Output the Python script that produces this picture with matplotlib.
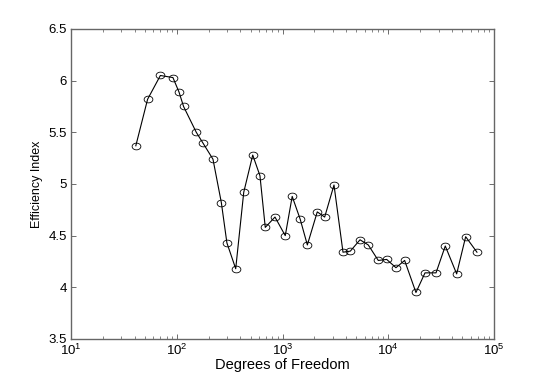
import matplotlib
matplotlib.use("Agg")
import matplotlib.pyplot as plt
from matplotlib.path import Path
import numpy as np

# Données
dof = [41, 53, 70, 92, 105, 116, 153, 176, 220, 264, 298, 361, 430, 523, 612,
       687, 849, 1062, 1235, 1469, 1718, 2132, 2505, 3069, 3733, 4377, 5408,
       6475, 8050, 9664, 11830, 14290, 18280, 22270, 28300, 34620, 44360,
       53970, 69000]
efficiency = [5.37, 5.82, 6.05, 6.03, 5.89, 5.75, 5.50, 5.40, 5.24, 4.82,
              4.43, 4.18, 4.92, 5.28, 5.08, 4.58, 4.68, 4.50, 4.88, 4.66,
              4.41, 4.73, 4.68, 4.99, 4.34, 4.35, 4.46, 4.41, 4.26, 4.27,
              4.19, 4.26, 3.95, 4.14, 4.14, 4.40, 4.13, 4.49, 4.34]

plt.rcParams["font.family"] = ["Liberation Sans", "DejaVu Sans"]
plt.rcParams["mathtext.default"] = "regular"
plt.rcParams["font.size"] = 9.5

# Marqueur elliptique (cercles légèrement écrasés comme dans l'original)
t = np.linspace(0, 2 * np.pi, 40)
ellipse = Path(np.column_stack([1.3 * np.cos(t), np.sin(t)]), closed=True)

fig = plt.figure(figsize=(5.45, 3.82), dpi=100)
ax = fig.add_axes([0.1303, 0.1126, 0.7761, 0.8115])

ax.plot(dof, efficiency, "-", color="black", linewidth=0.8,
        marker=ellipse, markersize=6.3, markerfacecolor="none",
        markeredgecolor="black", markeredgewidth=0.6)

ax.set_xscale("log")
ax.set_xlim(10, 1e5)
ax.set_ylim(3.5, 6.5)
ax.set_yticks(np.arange(3.5, 6.51, 0.5))
ax.set_yticklabels(["3.5", "4", "4.5", "5", "5.5", "6", "6.5"])

ax.tick_params(which="both", direction="in", top=True, right=True,
               color="#555555")
ax.tick_params(which="major", length=3.5, width=0.6, pad=3)
ax.tick_params(which="minor", length=2, width=0.5)
for s in ax.spines.values():
    s.set_color("#666666")
    s.set_linewidth(1.0)

ax.set_xlabel("Degrees of Freedom", fontsize=10.5, labelpad=0)
ax.set_ylabel("Efficiency Index", fontsize=9, labelpad=4)

fig.savefig("out.png", dpi=100)
